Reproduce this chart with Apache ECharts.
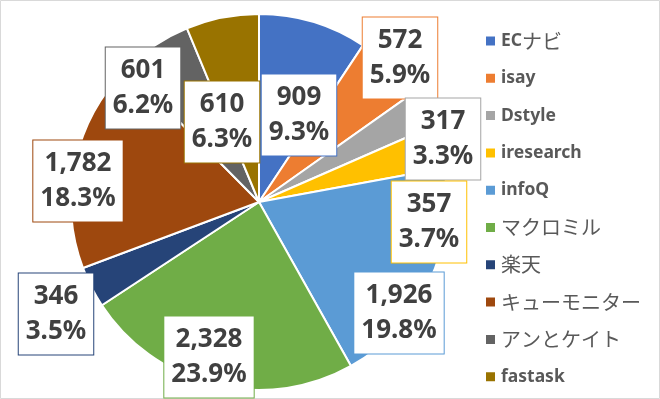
<!DOCTYPE html>
<html>
<head>
<meta charset="utf-8">
<script src="https://cdn.jsdelivr.net/npm/echarts@6/dist/echarts.min.js"></script>
<style>
  html, body { margin: 0; padding: 0; background: #fff; }
  #main { width: 660px; height: 399px; }
</style>
</head>
<body>
<div id="main"></div>
<script>
  // 調査会社ごとの件数
  var categories = ['ECナビ', 'isay', 'Dstyle', 'iresearch', 'infoQ', 'マクロミル', '楽天', 'キューモニター', 'アンとケイト', 'fastask']
  var values = [909, 572, 317, 357, 1926, 2328, 346, 1782, 601, 610]
  var colors = ['#4472C4', '#ED7D31', '#A5A5A5', '#FFC000', '#5B9BD5', '#70AD47', '#264478', '#9E480E', '#636363', '#997300']

  var total = values.reduce(function (a, b) { return a + b }, 0)
  var center = [259, 202]
  // ラベルの位置（円の中心からのずれ）
  var labelOffset = [
    [40, -87], [141, -144], [184, -63], [170, 20], [140, 111],
    [-50, 155], [-203, 112], [-181, -21], [-116, -114], [-37, -80]
  ]

  var chart = echarts.init(document.getElementById('main'))
  chart.setOption({
    animation: false,
    color: colors,
    graphic: [{
      type: 'rect',
      shape: {x: 0.5, y: 0.5, width: 659, height: 398},
      style: {fill: 'none', stroke: '#d9d9d9', lineWidth: 1}
    }],
    legend: {
      orient: 'vertical',
      left: 479,
      top: 26,
      icon: 'rect',
      itemWidth: 11,
      itemHeight: 11,
      itemGap: 17.3,
      // 日本語の部分だけ少し大きく
      formatter: function (name) {
        return name.replace(/[^\x00-\x7F]+/g, function (s) { return '{j|' + s + '}' })
      },
      textStyle: {
        color: '#595959',
        fontSize: 17.5,
        fontWeight: 'bold',
        lineHeight: 20,
        fontFamily: '"Noto Sans", "Noto Sans CJK JP"',
        rich: {
          j: {
            color: '#595959',
            fontSize: 20,
            fontWeight: 'normal',
            lineHeight: 20,
            fontFamily: '"Noto Sans CJK JP"'
          }
        }
      },
      data: categories
    },
    series: [{
      type: 'pie',
      center: center,
      radius: 188,
      startAngle: 90,
      clockwise: true,
      itemStyle: {borderColor: '#fff', borderWidth: 2},
      emphasis: {disabled: true},
      labelLine: {show: false},
      label: {
        show: true,
        position: 'inside',
        formatter: function (p) {
          return p.value.toLocaleString('en-US') + '\n' + (p.value / total * 100).toFixed(1) + '%'
        },
        color: '#404040',
        fontSize: 26,
        fontWeight: 'bold',
        fontFamily: '"Noto Sans", sans-serif',
        lineHeight: 35,
        align: 'center',
        backgroundColor: '#fff',
        borderWidth: 1,
        padding: [6, 7, 5, 7]
      },
      labelLayout: function (params) {
        var o = labelOffset[params.dataIndex]
        return {x: center[0] + o[0], y: center[1] + o[1], align: 'center', verticalAlign: 'middle'}
      },
      data: categories.map(function (name, i) {
        return {name: name, value: values[i], label: {borderColor: colors[i]}}
      })
    }]
  })
</script>
</body>
</html>
